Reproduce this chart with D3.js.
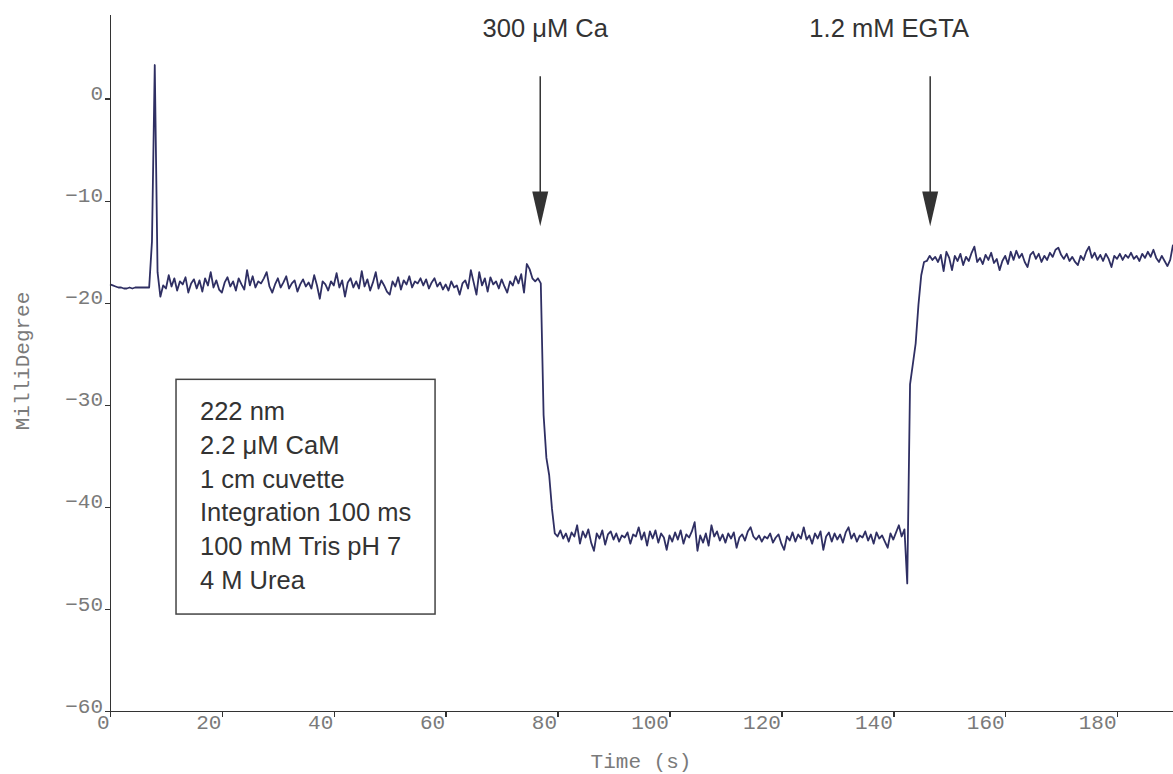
<!DOCTYPE html>
<html>
<head>
<meta charset="utf-8">
<script src="https://cdn.jsdelivr.net/npm/d3@7"></script>
<style>
body{margin:0;background:#fff;}
.axis path,.axis line{stroke:#333;stroke-width:1.5;shape-rendering:crispEdges;}
.axis text,.axis-title{font-family:"Liberation Mono",monospace;font-size:21px;fill:#7a7a7a;}
.note{font-family:"Liberation Sans",Arial,sans-serif;font-size:25.5px;fill:#333;}
</style>
</head>
<body>
<div class="chart"></div>
<script>
var xTicks = [0,20,40,60,80,100,120,140,160,180];
var yTicks = [-60,-50,-40,-30,-20,-10,0];
var sampleStep = 0.5; // seconds between readings, first reading at t = 0

// CD signal at 222 nm, millidegree, one row per 10 s
var signal = [].concat(
  [-18.2,-18.3,-18.4,-18.5,-18.5,-18.6,-18.6,-18.5,-18.6,-18.5,-18.5,-18.5,-18.5,-18.5,-18.5,-14.0,3.3,-17.0,-19.4,-18.3],
  [-18.6,-17.3,-18.4,-17.6,-18.8,-17.9,-18.2,-17.5,-19.0,-18.1,-17.7,-18.6,-17.8,-18.9,-17.6,-18.3,-17.0,-18.5,-17.8,-18.7],
  [-19.0,-18.0,-17.5,-18.4,-17.9,-18.8,-17.6,-18.2,-18.7,-16.8,-18.3,-17.4,-18.5,-17.9,-18.1,-17.6,-17.0,-18.4,-19.0,-18.2],
  [-17.6,-18.5,-18.0,-17.4,-18.6,-18.1,-17.8,-18.9,-18.2,-17.7,-18.4,-18.0,-18.6,-17.3,-18.3,-19.6,-17.9,-18.2,-18.8,-17.9],
  [-18.3,-17.1,-18.5,-17.8,-19.4,-18.0,-17.6,-18.5,-17.9,-18.6,-16.9,-18.4,-17.7,-18.8,-18.0,-17.0,-18.6,-17.8,-18.3,-18.9],
  [-19.2,-17.9,-18.4,-17.5,-18.7,-17.8,-18.2,-17.4,-18.5,-17.9,-18.1,-17.6,-18.3,-17.7,-18.6,-18.0,-17.6,-18.4,-18.0,-18.7],
  [-18.2,-18.8,-17.9,-18.5,-18.3,-19.2,-18.1,-17.8,-18.6,-16.8,-18.0,-19.2,-17.0,-18.3,-17.6,-18.9,-17.5,-18.2,-17.9,-18.6],
  [-17.7,-18.4,-19.0,-17.9,-18.3,-17.4,-18.1,-17.2,-19.0,-16.2,-16.7,-17.6,-17.9,-17.6,-18.1,-31.0,-35.2,-36.9,-40.2,-42.6],
  [-42.9,-42.3,-43.1,-42.6,-43.4,-42.5,-42.9,-41.8,-43.6,-42.4,-43.0,-42.2,-43.5,-44.3,-42.6,-43.1,-42.3,-43.7,-42.7,-42.4],
  [-43.2,-42.6,-43.4,-42.8,-43.0,-42.5,-43.6,-42.7,-42.9,-42.0,-43.2,-42.5,-43.8,-42.4,-43.1,-42.3,-43.5,-42.6,-43.0,-44.2],
  [-42.8,-43.4,-42.5,-43.2,-42.3,-43.6,-42.7,-43.0,-42.4,-41.5,-44.3,-42.8,-43.5,-42.6,-43.8,-41.8,-42.9,-42.4,-43.3,-42.7],
  [-43.5,-42.6,-43.1,-42.5,-44.0,-43.0,-42.7,-43.3,-42.4,-42.0,-42.9,-43.2,-42.8,-43.4,-42.9,-43.1,-42.6,-43.5,-43.0,-42.7],
  [-43.6,-44.2,-42.9,-43.3,-42.5,-43.4,-42.7,-43.1,-42.0,-43.2,-42.8,-43.6,-42.6,-43.1,-42.4,-44.2,-42.9,-42.5,-43.4,-42.6],
  [-43.2,-42.7,-43.5,-42.5,-42.0,-43.1,-42.6,-43.4,-42.8,-43.0,-42.4,-43.3,-42.7,-43.6,-42.5,-43.1,-42.8,-43.4,-44.0,-42.6],
  [-43.2,-42.5,-41.8,-42.9,-42.2,-47.5,-28.0,-26.0,-24.0,-20.2,-17.3,-16.0,-15.9,-15.4,-15.8,-15.5,-16.0,-15.3,-16.9,-15.0],
  [-15.6,-16.8,-15.4,-15.9,-15.2,-16.3,-15.5,-15.9,-15.1,-14.5,-16.0,-15.6,-16.2,-15.3,-15.8,-15.1,-16.1,-15.7,-16.8,-15.9],
  [-15.4,-16.2,-15.0,-15.8,-14.9,-15.6,-15.2,-16.0,-16.5,-15.3,-15.0,-15.7,-15.2,-16.0,-15.4,-15.8,-15.1,-15.5,-14.8,-14.6],
  [-15.3,-15.7,-15.2,-15.9,-15.5,-16.0,-16.3,-15.4,-15.8,-15.0,-14.5,-15.6,-15.1,-15.8,-15.3,-15.9,-15.2,-15.7,-16.5,-15.4],
  [-15.7,-15.2,-15.8,-15.3,-15.6,-15.1,-15.7,-15.4,-15.9,-15.2,-15.6,-15.0,-15.5,-14.8,-15.6,-16.0,-15.4,-15.9,-16.4,-15.8,-14.3]
);

var eventLabels = ["300 μM Ca","1.2 mM EGTA"];
var eventTimes = [76.9,146.6];

var conditions = ["222 nm","2.2 μM CaM","1 cm cuvette","Integration 100 ms","100 mM Tris pH 7","4 M Urea"];

var ChartView = function(el){
  this.w = 1173;
  this.h = 774;
  this.margins = {left:110,right:0,top:14,bottom:63};
  this.x = d3.scaleLinear().domain([0,190]).range([this.margins.left,this.w-this.margins.right]);
  this.y = d3.scaleLinear().domain([-60,8.3]).range([this.h-this.margins.bottom,this.margins.top]);
  this.svg = d3.select(el).append("svg").attr("width",this.w).attr("height",this.h);
  this.render();
}

ChartView.prototype = {
  addAxes:function(){
    var x = this.x, y = this.y, svg = this.svg;
    var gx = svg.append("g").attr("class","axis")
      .attr("transform","translate(0,"+y(-60)+")")
      .call(d3.axisBottom(x).tickValues(xTicks).tickSize(6).tickSizeOuter(0));
    gx.selectAll("text").attr("y",18).attr("dy",null).attr("x",-1).style("text-anchor","end");

    var gy = svg.append("g").attr("class","axis")
      .attr("transform","translate("+x(0)+",0)")
      .call(d3.axisLeft(y).tickValues(yTicks).tickSize(5).tickSizeOuter(0));
    gy.selectAll("text").attr("x",-7).attr("dy","0.05em");

    svg.append("text").attr("class","axis-title")
      .attr("x",641).attr("y",768)
      .style("text-anchor","middle").text("Time (s)");
    svg.append("text").attr("class","axis-title")
      .attr("transform","translate(29,361) rotate(-90)")
      .style("text-anchor","middle").text("MilliDegree");
  },
  addTrace:function(){
    var x = this.x, y = this.y;
    var line = d3.line()
      .x(function(d,i){ return x(i*sampleStep); })
      .y(function(d){ return y(d); });
    this.svg.append("path").datum(signal)
      .attr("d",line)
      .attr("fill","none")
      .attr("stroke","#2f2f63")
      .attr("stroke-width",1.8)
      .attr("stroke-linejoin","round");
  },
  addEvents:function(){
    var x = this.x, y = this.y;
    var labelShift = [5,-41];
    var g = this.svg.selectAll(".event").data(eventTimes).enter().append("g").attr("class","event");
    g.append("line")
      .attr("x1",function(d){return x(d)}).attr("x2",function(d){return x(d)})
      .attr("y1",y(2.2)).attr("y2",y(-9.3))
      .attr("stroke","#333").attr("stroke-width",1.5);
    g.append("path")
      .attr("d",function(d){
        var cx = x(d);
        return "M"+(cx-8)+","+y(-9.1)+"L"+(cx+8)+","+y(-9.1)+"L"+cx+","+y(-12.5)+"Z";
      })
      .attr("fill","#333");
    g.append("text").attr("class","note")
      .attr("x",function(d,i){return x(d)+labelShift[i]})
      .attr("y",37)
      .style("text-anchor","middle")
      .text(function(d,i){return eventLabels[i]});
  },
  addBox:function(){
    var x = this.x, y = this.y;
    this.svg.append("rect")
      .attr("x",x(11.8)).attr("y",y(-27.5))
      .attr("width",x(58.1)-x(11.8)).attr("height",y(-50.5)-y(-27.5))
      .attr("fill","none").attr("stroke","#444").attr("stroke-width",1.5);
    this.svg.selectAll(".cond").data(conditions).enter().append("text")
      .attr("class","note cond")
      .attr("x",200)
      .attr("y",function(d,i){return 420+i*33.8})
      .text(function(d){return d});
  },
  render:function(){
    this.addBox();
    this.addTrace();
    this.addAxes();
    this.addEvents();
  }
}

new ChartView(document.querySelector(".chart"));
</script>
</body>
</html>
